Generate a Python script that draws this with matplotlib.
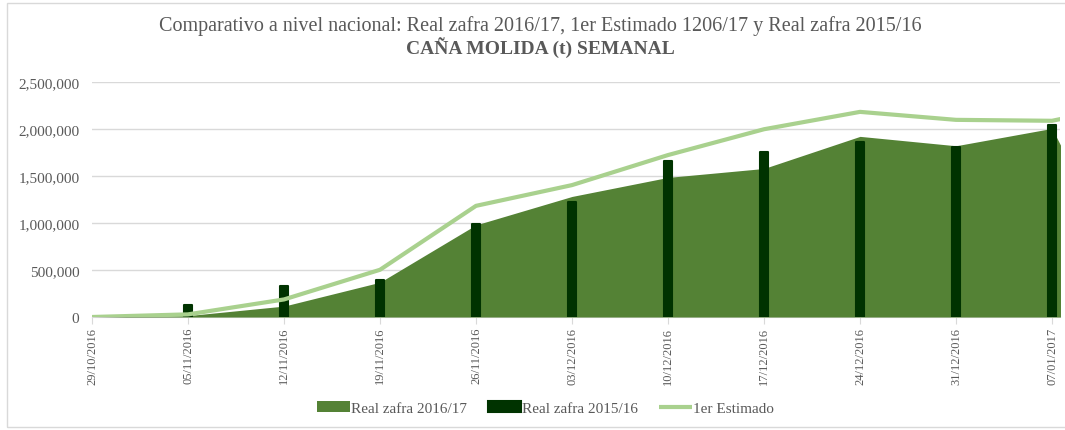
import numpy as np
import matplotlib.pyplot as plt
from matplotlib.patches import Rectangle
from matplotlib.ticker import FuncFormatter

# datos semanales (t)
semanas = ['29/10/2016', '05/11/2016', '12/11/2016', '19/11/2016', '26/11/2016',
           '03/12/2016', '10/12/2016', '17/12/2016', '24/12/2016', '31/12/2016',
           '07/01/2017', '14/01/2017']
real_1617 = [0, 15000, 116000, 370000, 981000, 1284000, 1487000, 1582000,
             1924000, 1824000, 2009000, 0]
real_1516 = [0, 130000, 327000, 394000, 990000, 1220000, 1657000, 1760000,
             1867000, 1814000, 2045000, np.nan]
estimado = [0, 28000, 187000, 503000, 1184000, 1405000, 1725000, 2000000,
            2185000, 2100000, 2090000, 2300000]

gris = '#595959'
plt.rcParams['font.family'] = ['Liberation Serif', 'DejaVu Serif']

fig = plt.figure(figsize=(10.65, 4.31), dpi=100)
ax = fig.add_axes([92 / 1065, 1 - 318 / 431, (1060 - 92) / 1065, (318 - 83.3) / 431])

# borde del area del grafico
fig.patches.append(Rectangle((7 / 1065, 3 / 431), 1.2, 424 / 431, transform=fig.transFigure,
                             fill=False, edgecolor='#d9d9d9', linewidth=1))

x = np.arange(len(semanas))

area = ax.fill_between(x, real_1617, color='#548235', linewidth=0, zorder=2,
                       label='Real zafra 2016/17')
barras = ax.bar(x, real_1516, width=0.075, color='#003300', edgecolor='#003300',
                linewidth=1.5, zorder=3, label='Real zafra 2015/16')
for b in barras:
    b.set_joinstyle('round')
linea, = ax.plot(x, estimado, color='#a9d18e', linewidth=3, zorder=4, label='1er Estimado',
                 solid_capstyle='butt')

ax.set_xticks(x)
ax.set_xticklabels(semanas, rotation=90, fontsize=9, color=gris)
ax.set_xlim(0, 10 + 8 / 96)
ax.set_ylim(0, 2500000)
ax.set_yticks(np.arange(0, 2500001, 500000))
ax.yaxis.set_major_formatter(FuncFormatter(lambda v, p: '{:,.0f}'.format(v)))

ax.grid(axis='y', color='#d9d9d9', linewidth=1)
ax.set_axisbelow(True)
for s in ['top', 'right', 'left']:
    ax.spines[s].set_visible(False)
ax.spines['bottom'].set_color('#d9d9d9')
ax.spines['bottom'].set_zorder(1)
ax.tick_params(axis='y', length=0, labelsize=11, labelcolor=gris, pad=9)
ax.tick_params(axis='x', length=5, color='#d9d9d9', pad=2)

fig.text(0.507, 0.94, 'Comparativo a nivel nacional: Real zafra 2016/17, 1er Estimado 1206/17 y Real zafra 2015/16',
         ha='center', va='center', fontsize=14.5, color=gris)
fig.text(0.507, 0.889, 'CAÑA MOLIDA (t) SEMANAL', ha='center', va='center',
         fontsize=14, fontweight='bold', color=gris)

leg = fig.legend([area, barras, linea], ['Real zafra 2016/17', 'Real zafra 2015/16', '1er Estimado'],
                 loc='center', bbox_to_anchor=(0.512, 0.051), ncol=3, frameon=False,
                 fontsize=11, handlelength=2.15, handletextpad=0.1, columnspacing=1.35)
for t in leg.get_texts():
    t.set_color(gris)

fig.savefig('out.png', dpi=100)
